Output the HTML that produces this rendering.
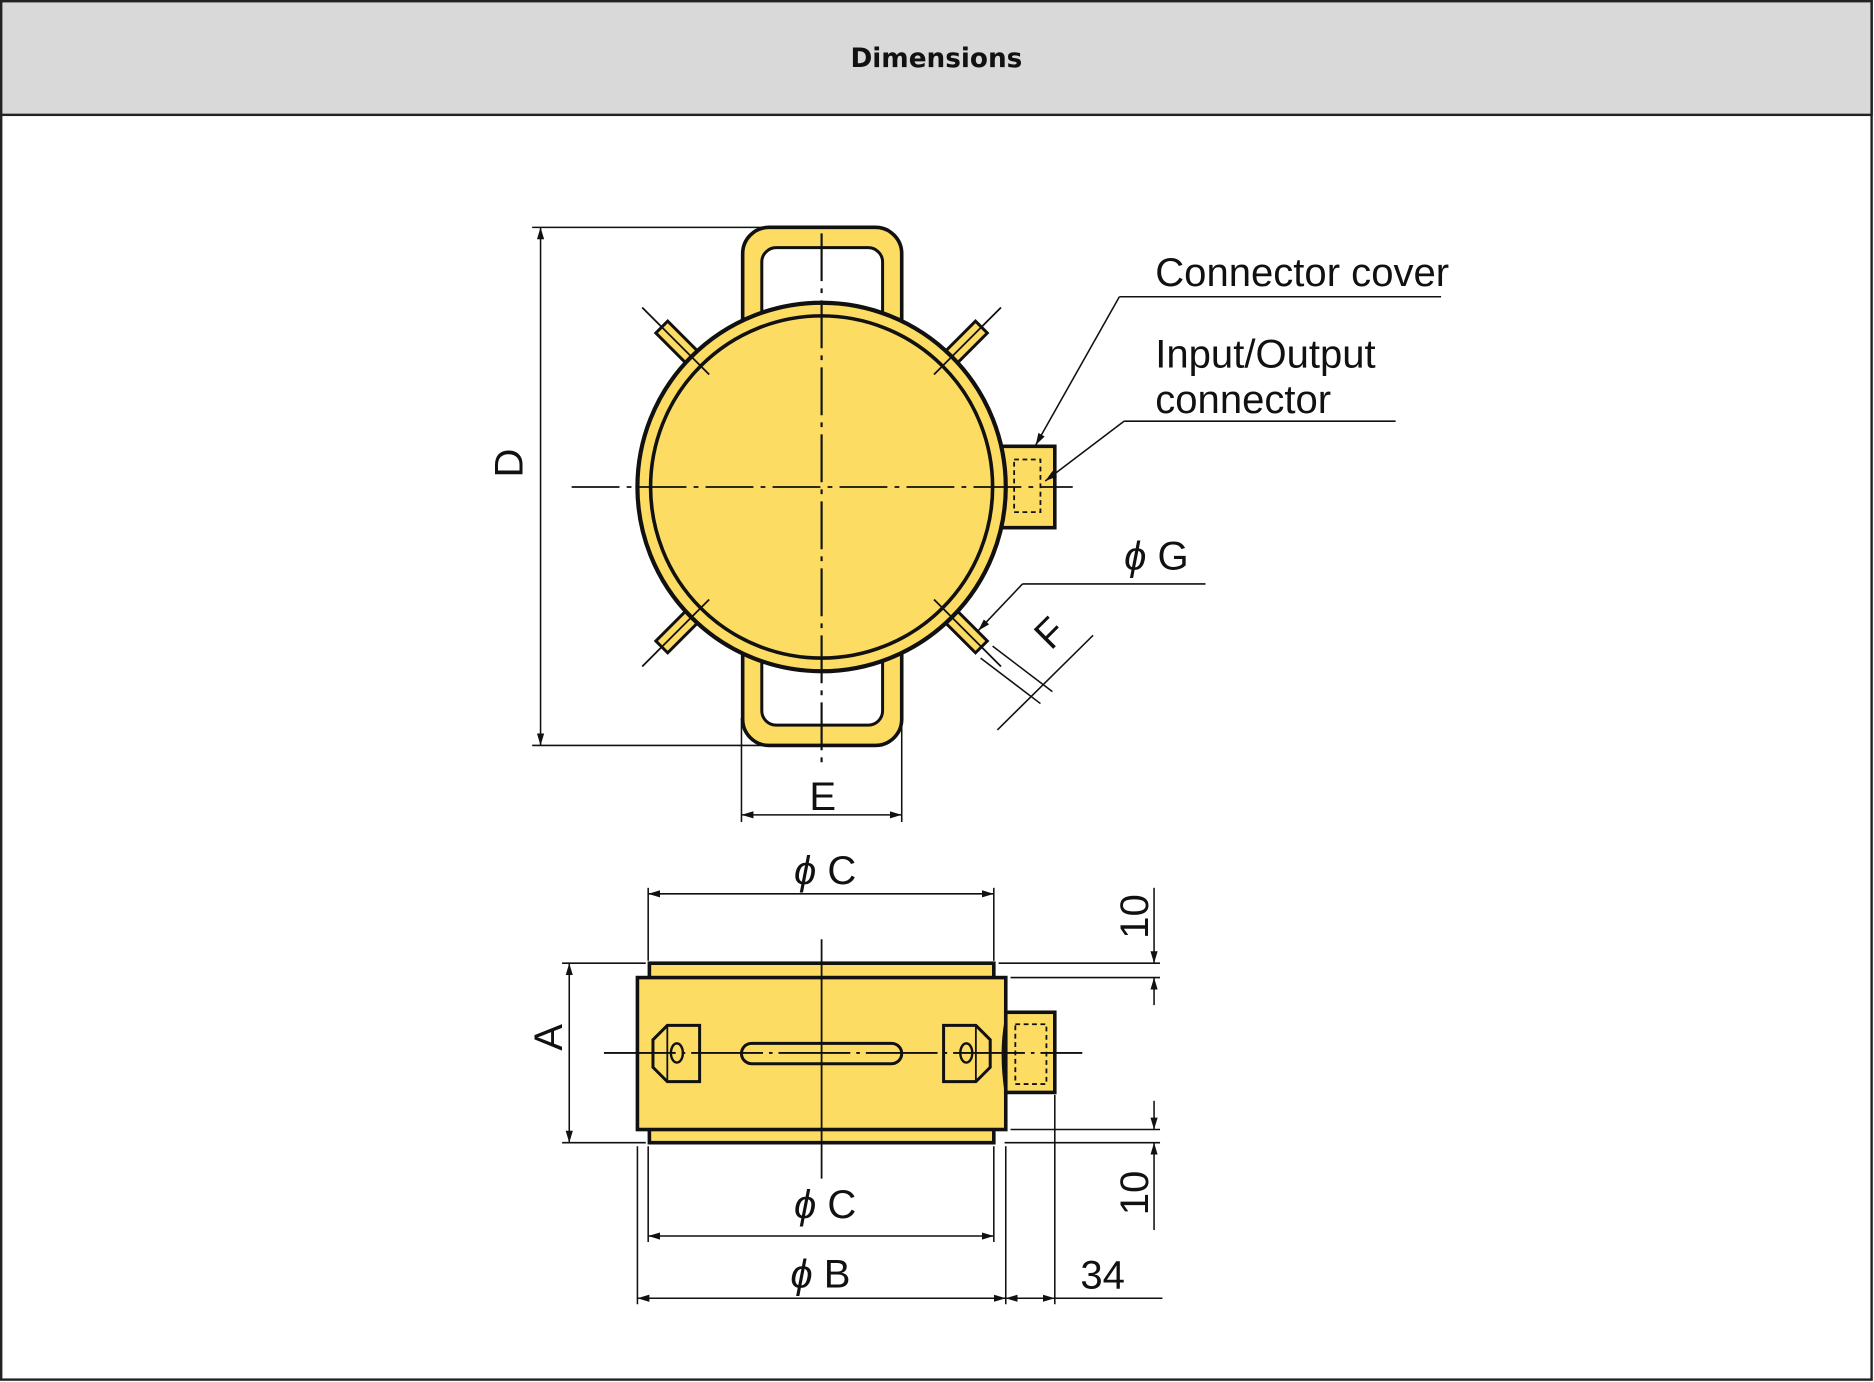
<!DOCTYPE html>
<html><head><meta charset="utf-8"><style>
html,body{margin:0;padding:0;background:#fff;}
svg{display:block;}
text{font-family:"Liberation Sans",sans-serif;fill:#111;}
</style></head><body>
<svg width="1874" height="1382" viewBox="0 0 1567 1155" preserveAspectRatio="none" xmlns="http://www.w3.org/2000/svg">
<defs>
<marker id="ar" viewBox="0 0 10 10" refX="10" refY="5" markerWidth="10" markerHeight="10" orient="auto-start-reverse" markerUnits="userSpaceOnUse"><path d="M0,2 L10,5 L0,8 z" fill="#111"/></marker>
</defs>
<rect x="1" y="1" width="1564" height="1152" fill="#fff" stroke="#222" stroke-width="2"/>
<rect x="1" y="1" width="1564" height="95" fill="#d9d9d9" stroke="#222" stroke-width="2"/>
<text x="783" y="56" text-anchor="middle" font-size="22" font-weight="bold" style="font-family:'DejaVu Sans','Liberation Sans',sans-serif">Dimensions</text>

<g stroke="#111" fill="none">
<rect x="621" y="190" width="133" height="110" rx="22" fill="#fddc63" stroke-width="3"/>
<rect x="637" y="207" width="101" height="90" rx="12" fill="#fff" stroke-width="2.5"/>
<rect x="621" y="513" width="133" height="110" rx="22" fill="#fddc63" stroke-width="3"/>
<rect x="637" y="517" width="101" height="89" rx="12" fill="#fff" stroke-width="2.5"/>
<g fill="#fddc63" stroke-width="2.5">
<rect x="145" y="-7" width="44" height="14" transform="translate(687,407) rotate(-45)"/>
<rect x="145" y="-7" width="44" height="14" transform="translate(687,407) rotate(45)"/>
<rect x="145" y="-7" width="44" height="14" transform="translate(687,407) rotate(135)"/>
<rect x="145" y="-7" width="44" height="14" transform="translate(687,407) rotate(-135)"/>
</g>
<rect x="834" y="373" width="48" height="68" fill="#fddc63" stroke-width="3"/>
<rect x="848" y="384" width="22" height="44" stroke-width="1.5" stroke-dasharray="4,3"/>
<circle cx="687" cy="407" r="154" fill="#fddc63" stroke-width="3.5"/>
<circle cx="687" cy="407" r="143" stroke-width="3"/>
<g stroke-width="1.5">
<line x1="537" y1="257" x2="593" y2="313"/><line x1="837" y1="257" x2="781" y2="313"/>
<line x1="537" y1="557" x2="593" y2="501"/><line x1="837" y1="557" x2="781" y2="501"/>
</g>
<line x1="478" y1="407" x2="897" y2="407" stroke-width="1.5" stroke-dasharray="40,6,4,6"/>
<line x1="687" y1="195" x2="687" y2="637" stroke-width="1.8" stroke-dasharray="40,6,4,6"/>
<g stroke-width="1.3">
<line x1="445" y1="190" x2="640" y2="190"/><line x1="445" y1="623" x2="640" y2="623"/>
<line x1="452" y1="190" x2="452" y2="623" marker-start="url(#ar)" marker-end="url(#ar)"/>
<line x1="620" y1="600" x2="620" y2="687"/><line x1="754" y1="600" x2="754" y2="687"/>
<line x1="620" y1="681" x2="754" y2="681" marker-start="url(#ar)" marker-end="url(#ar)"/>
<line x1="1205" y1="248" x2="936" y2="248"/><line x1="936" y1="248" x2="866" y2="372" marker-end="url(#ar)"/>
<line x1="1167" y1="352" x2="940" y2="352"/><line x1="940" y1="352" x2="874" y2="402" marker-end="url(#ar)"/>
<line x1="1008" y1="488" x2="855" y2="488"/><line x1="855" y1="488" x2="818" y2="527" marker-end="url(#ar)"/>
<line x1="820" y1="550" x2="870" y2="588"/><line x1="830" y1="540" x2="880" y2="578"/>
<line x1="834" y1="610" x2="914" y2="531"/>
</g>

<rect x="543" y="805" width="288" height="150" fill="#fddc63" stroke-width="3"/>
<rect x="533" y="817" width="308" height="127" fill="#fddc63" stroke-width="3"/>
<path d="M841,853 Q836,880 841,913" stroke-width="2"/>
<rect x="841" y="846" width="41" height="67" fill="#fddc63" stroke-width="3"/>
<rect x="849" y="856" width="26" height="50" stroke-width="1.5" stroke-dasharray="4,3"/>
<rect x="620" y="872" width="134" height="17" rx="8.5" stroke-width="2.5"/>
<path d="M585,857 L558,857 L546,869 L546,892 L558,904 L585,904 Z" stroke-width="2.5"/>
<path d="M789,857 L816,857 L828,869 L828,892 L816,904 L789,904 Z" stroke-width="2.5"/>
<line x1="558" y1="857" x2="558" y2="904" stroke-width="1.5"/><line x1="816" y1="857" x2="816" y2="904" stroke-width="1.5"/>
<ellipse cx="566" cy="880" rx="5" ry="8" stroke-width="2"/>
<ellipse cx="808" cy="880" rx="5" ry="8" stroke-width="2"/>
<line x1="505" y1="880" x2="905" y2="880" stroke-width="1.5" stroke-dasharray="60,5,3,5"/>
<line x1="687" y1="785" x2="687" y2="985" stroke-width="1.5"/>
<g stroke-width="1.3">
<line x1="542" y1="742" x2="542" y2="803"/><line x1="831" y1="742" x2="831" y2="803"/>
<line x1="542" y1="747" x2="831" y2="747" marker-start="url(#ar)" marker-end="url(#ar)"/>
<line x1="835" y1="805" x2="970" y2="805"/><line x1="845" y1="817" x2="970" y2="817"/>
<line x1="965" y1="742" x2="965" y2="805" marker-end="url(#ar)"/><line x1="965" y1="840" x2="965" y2="817" marker-end="url(#ar)"/>
<line x1="845" y1="944" x2="970" y2="944"/><line x1="840" y1="955" x2="970" y2="955"/>
<line x1="965" y1="920" x2="965" y2="944" marker-end="url(#ar)"/><line x1="965" y1="1028" x2="965" y2="955" marker-end="url(#ar)"/>
<line x1="470" y1="805" x2="540" y2="805"/><line x1="470" y1="955" x2="540" y2="955"/>
<line x1="476" y1="805" x2="476" y2="955" marker-start="url(#ar)" marker-end="url(#ar)"/>
<line x1="542" y1="958" x2="542" y2="1038"/><line x1="831" y1="958" x2="831" y2="1038"/>
<line x1="542" y1="1033" x2="831" y2="1033" marker-start="url(#ar)" marker-end="url(#ar)"/>
<line x1="533" y1="958" x2="533" y2="1090"/><line x1="841" y1="958" x2="841" y2="1090"/>
<line x1="533" y1="1085" x2="841" y2="1085" marker-start="url(#ar)" marker-end="url(#ar)"/>
<line x1="882" y1="915" x2="882" y2="1090"/>
<line x1="841" y1="1085" x2="882" y2="1085" marker-start="url(#ar)" marker-end="url(#ar)"/>
<line x1="882" y1="1085" x2="972" y2="1085"/>
</g>
</g>

<g font-size="33.5">
<text x="966" y="239">Connector cover</text>
<text x="966" y="307">Input/Output</text>
<text x="966" y="345">connector</text>
<text x="940" y="476"><tspan font-style="italic">ϕ</tspan> G</text>
<text x="0" y="0" transform="translate(886,537) rotate(-45)" text-anchor="middle">F</text>
<text x="0" y="0" transform="translate(437,387) rotate(-90)" text-anchor="middle">D</text>
<text x="688" y="677" text-anchor="middle">E</text>
<text x="690" y="739" text-anchor="middle"><tspan font-style="italic">ϕ</tspan> C</text>
<text x="690" y="1018" text-anchor="middle"><tspan font-style="italic">ϕ</tspan> C</text>
<text x="686" y="1076" text-anchor="middle"><tspan font-style="italic">ϕ</tspan> B</text>
<text x="922" y="1077" text-anchor="middle">34</text>
<text x="0" y="0" transform="translate(470,867) rotate(-90)" text-anchor="middle">A</text>
<text x="0" y="0" transform="translate(960,766) rotate(-90)" text-anchor="middle">10</text>
<text x="0" y="0" transform="translate(960,997) rotate(-90)" text-anchor="middle">10</text>
</g>
</svg>
</body></html>
